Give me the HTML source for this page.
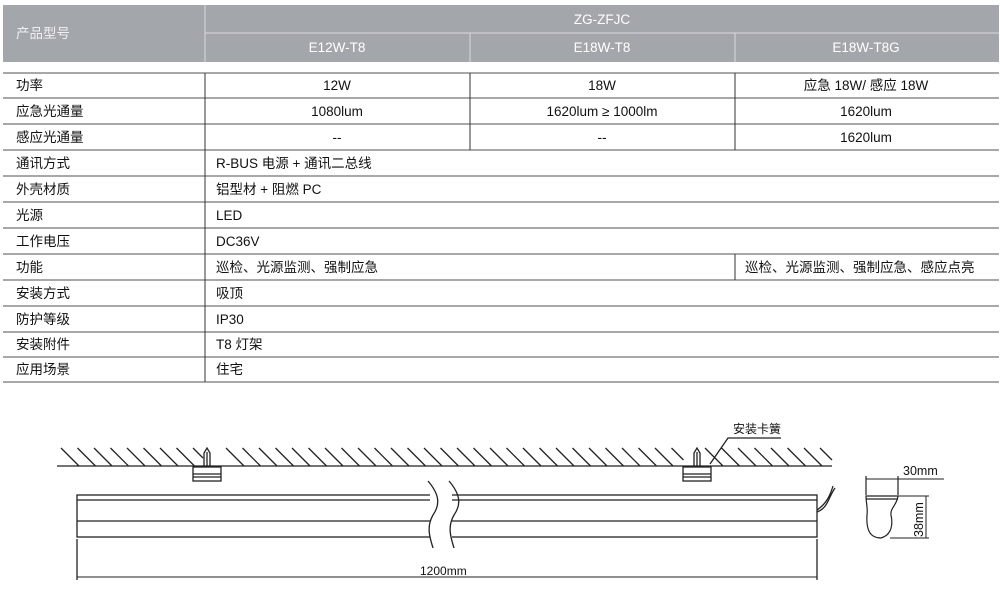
<!DOCTYPE html>
<html><head><meta charset="utf-8"><style>
body{margin:0;background:#fff;width:1000px;height:608px;overflow:hidden}
svg{display:block}
text{font-family:"Liberation Sans","Noto Sans CJK SC",sans-serif;font-size:13.5px;fill:#111}
</style></head><body>
<svg width="1000" height="608" viewBox="0 0 1000 608">
<rect x="3" y="5" width="996" height="57" fill="#a3a7ac"/>
<line x1="205" y1="5" x2="205" y2="62" stroke="#d8dadc" stroke-width="1"/>
<line x1="205" y1="33" x2="999" y2="33" stroke="#d8dadc"/>
<line x1="470" y1="33" x2="470" y2="62" stroke="#d8dadc"/>
<line x1="735" y1="33" x2="735" y2="62" stroke="#d8dadc"/>
<text x="16" y="38" style="fill:#eef0f2">产品型号</text>
<text x="602" y="24" text-anchor="middle" style="fill:#fff">ZG-ZFJC</text>
<text x="337" y="52" text-anchor="middle" style="fill:#fff">E12W-T8</text>
<text x="602" y="52" text-anchor="middle" style="fill:#fff">E18W-T8</text>
<text x="866" y="52" text-anchor="middle" style="fill:#fff">E18W-T8G</text>
<g stroke="#8c8c8c" stroke-width="1.5">
<line x1="3" y1="73" x2="999" y2="73"/><line x1="3" y1="98" x2="999" y2="98"/>
<line x1="3" y1="124" x2="999" y2="124"/><line x1="3" y1="150" x2="999" y2="150"/>
<line x1="3" y1="176" x2="999" y2="176"/><line x1="3" y1="202" x2="999" y2="202"/>
<line x1="3" y1="228" x2="999" y2="228"/><line x1="3" y1="254" x2="999" y2="254"/>
<line x1="3" y1="280" x2="999" y2="280"/><line x1="3" y1="306" x2="999" y2="306"/>
<line x1="3" y1="332" x2="999" y2="332"/><line x1="3" y1="357" x2="999" y2="357"/>
<line x1="3" y1="382" x2="999" y2="382"/>
</g>
<g stroke="#333" stroke-width="1">
<line x1="205" y1="73" x2="205" y2="382"/>
<line x1="470" y1="73" x2="470" y2="150"/>
<line x1="735" y1="73" x2="735" y2="150"/>
<line x1="735" y1="254" x2="735" y2="280"/>
</g>
<g>
<text x="16" y="90">功率</text><text x="16" y="116">应急光通量</text><text x="16" y="142">感应光通量</text>
<text x="16" y="168">通讯方式</text><text x="16" y="194">外壳材质</text><text x="16" y="220">光源</text>
<text x="16" y="246">工作电压</text><text x="16" y="272">功能</text><text x="16" y="298">安装方式</text>
<text x="16" y="324">防护等级</text><text x="16" y="349">安装附件</text><text x="16" y="374">应用场景</text>
<text x="337" y="90" text-anchor="middle">12W</text><text x="602" y="90" text-anchor="middle">18W</text><text x="866" y="90" text-anchor="middle">应急 18W/ 感应 18W</text>
<text x="337" y="116" text-anchor="middle">1080lum</text><text x="602" y="116" text-anchor="middle">1620lum ≥ 1000lm</text><text x="866" y="116" text-anchor="middle">1620lum</text>
<text x="337" y="142" text-anchor="middle">--</text><text x="602" y="142" text-anchor="middle">--</text><text x="866" y="142" text-anchor="middle">1620lum</text>
<text x="216" y="168">R-BUS 电源 + 通讯二总线</text><text x="216" y="194">铝型材 + 阻燃 PC</text>
<text x="216" y="220">LED</text><text x="216" y="246">DC36V</text>
<text x="216" y="272">巡检、光源监测、强制应急</text><text x="745" y="272">巡检、光源监测、强制应急、感应点亮</text>
<text x="216" y="298">吸顶</text><text x="216" y="324">IP30</text><text x="216" y="349">T8 灯架</text><text x="216" y="374">住宅</text>
</g>
<g stroke="#222" stroke-width="1.3" fill="none">
<line x1="57" y1="466" x2="832" y2="466"/>
<path d="M61 448 l18 18 M77.5 448 l18 18 M94 448 l18 18 M110.5 448 l18 18 M127 448 l18 18 M143.5 448 l18 18 M160 448 l18 18 M176.5 448 l18 18 M193 448 l10 10 M226 448 l18 18 M242.5 448 l18 18 M259 448 l18 18 M275.5 448 l18 18 M292 448 l18 18 M308.5 448 l18 18 M325 448 l18 18 M341.5 448 l18 18 M358 448 l18 18 M374.5 448 l18 18 M391 448 l18 18 M407.5 448 l18 18 M424 448 l18 18 M440.5 448 l18 18 M457 448 l18 18 M473.5 448 l18 18 M490 448 l18 18 M506.5 448 l18 18 M523 448 l18 18 M539.5 448 l18 18 M556 448 l18 18 M572.5 448 l18 18 M589 448 l18 18 M605.5 448 l18 18 M622 448 l18 18 M638.5 448 l18 18 M655 448 l18 18 M671.5 448 l12 12 M705 448 l18 18 M721.5 448 l18 18 M738 448 l18 18 M754.5 448 l18 18 M771 448 l18 18 M787.5 448 l18 18 M804 448 l18 18 M820 448 l12 12"/>
<rect x="193" y="467" width="28" height="14"/><line x1="193" y1="474" x2="221" y2="474"/><line x1="193" y1="477" x2="221" y2="477"/>
<path d="M204 466 V453 L207 448 L210 453 V466 M207 452 V466"/>
<rect x="683" y="467" width="28" height="14"/><line x1="683" y1="474" x2="711" y2="474"/><line x1="683" y1="477" x2="711" y2="477"/>
<path d="M694 466 V453 L697 448 L700 453 V466 M697 452 V466"/>
<path d="M781 438 H728 L710 464"/>
<rect x="77" y="495" width="740" height="42" fill="#fff"/>
<line x1="77" y1="500" x2="817" y2="500"/><line x1="77" y1="521" x2="817" y2="521"/>
<path d="M817 512 C828 508 828 498 835 488 M817 510 C826 504 830 496 833 486"/>
<line x1="77" y1="539" x2="77" y2="580"/><line x1="817" y1="539" x2="817" y2="580"/>
<line x1="77" y1="577" x2="817" y2="577" stroke-width="1"/>
</g>
<rect x="430" y="483" width="22" height="66" fill="#fff"/>
<path d="M428 481 C440 495 440 505 433 515 C426 527 430 538 433 548 M449 481 C461 495 461 505 454 515 C447 527 451 538 454 548" stroke="#222" stroke-width="1.3" fill="none"/>
<g stroke="#222" stroke-width="1.2" fill="none">
<path d="M866 496 H898 C897 505 890 508 891 515 C893 524 892 535 881 538 C870 538 866 530 867 515 C868 508 866 503 866 496 Z"/>
<line x1="866" y1="499" x2="898" y2="499"/>
<line x1="866" y1="476" x2="866" y2="495"/><line x1="898" y1="476" x2="898" y2="495"/>
<line x1="866" y1="479" x2="944" y2="479" stroke-width="1"/>
<line x1="898" y1="496" x2="929" y2="496" stroke-width="1"/><line x1="890" y1="538" x2="929" y2="538" stroke-width="1"/>
<line x1="926" y1="496" x2="926" y2="538" stroke-width="1"/>
</g>
<text x="733" y="433" style="font-size:12px">安装卡簧</text>
<text x="420" y="575" style="font-size:12px">1200mm</text>
<text x="903" y="475" style="font-size:12.5px">30mm</text>
<text x="0" y="0" style="font-size:12.5px" transform="translate(923,537) rotate(-90)">38mm</text>
</svg>
</body></html>
